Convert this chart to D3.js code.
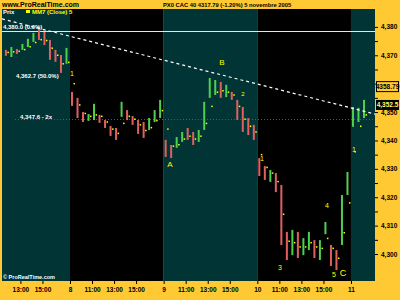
<!DOCTYPE html>
<html>
<head>
<meta charset="utf-8">
<script src="https://cdnjs.cloudflare.com/ajax/libs/d3/7.8.5/d3.min.js"></script>
<style>
  html, body { margin: 0; padding: 0; background: #ffc933; }
  svg { display: block; font-family: "Liberation Sans", Arial, sans-serif; }
</style>
</head>
<body>
<div id="chart"></div>
<script>
// sessions (hours counted from day 7, 9:00; one session = 8.5 h)
const dayNames = ["7", "8", "9", "10", "11"];
const dayStartHours = [0, 8.5, 17, 25.5, 34];
const firstBarHour = [11.5, 9, 9, 9, 9];
const barCounts = [12, 17, 17, 17, 3];
const hourTicks = [11, 13, 15];

// 30 min bars
const highs = [
  4371.9, 4372.9, 4372.2, 4374.0, 4375.8, 4377.9, 4380.0, 4378.2, 4375.4, 4371.9, 4370.1, 4372.6,
  4357.1, 4355.0, 4350.0, 4349.3, 4352.9, 4349.0, 4347.2, 4345.1, 4344.4, 4353.6, 4350.7, 4348.6, 4347.2, 4346.5, 4347.9, 4350.7, 4354.3,
  4340.2, 4338.4, 4341.2, 4343.0, 4344.4, 4343.0, 4343.7, 4353.6, 4362.0, 4361.3, 4360.6, 4359.6, 4357.1, 4354.3, 4351.8, 4347.9, 4345.5,
  4333.8, 4331.0, 4329.6, 4328.5, 4324.3, 4307.8, 4308.5, 4307.8, 4305.6, 4307.8, 4304.9, 4304.9, 4311.3, 4303.2, 4301.4, 4320.8, 4328.9,
  4351.8, 4351.5, 4354.3
];
const lows = [
  4369.8, 4369.4, 4370.5, 4371.9, 4372.9, 4374.7, 4375.4, 4373.6, 4368.4, 4367.7, 4363.8, 4367.0,
  4352.2, 4347.9, 4346.5, 4346.9, 4347.2, 4346.2, 4344.4, 4341.6, 4340.2, 4348.3, 4347.2, 4345.5, 4342.3, 4340.9, 4343.7, 4346.5, 4347.9,
  4334.2, 4333.8, 4337.4, 4339.5, 4340.2, 4338.4, 4339.5, 4343.7, 4355.0, 4356.0, 4355.0, 4355.3, 4354.3, 4347.2, 4343.0, 4341.9, 4340.2,
  4327.5, 4326.1, 4325.4, 4321.8, 4303.2, 4297.9, 4299.6, 4298.6, 4299.6, 4301.4, 4298.6, 4297.9, 4307.0, 4295.8, 4294.4, 4303.2, 4320.8,
  4344.8, 4346.5, 4347.9
];
const closes = [
  4370.5, 4371.8, 4371.0, 4373.5, 4375.2, 4377.0, 4376.0, 4374.2, 4369.0, 4368.5, 4365.0, 4368.0,
  4353.0, 4348.5, 4347.5, 4348.5, 4350.5, 4347.0, 4345.0, 4342.5, 4341.0, 4352.5, 4348.0, 4346.5, 4343.0, 4342.0, 4346.5, 4349.5, 4353.5,
  4335.5, 4335.0, 4340.5, 4342.0, 4341.0, 4339.5, 4343.0, 4350.0, 4357.5, 4359.0, 4356.0, 4357.5, 4355.0, 4348.0, 4345.0, 4343.0, 4341.0,
  4329.0, 4327.5, 4328.5, 4322.5, 4305.0, 4300.0, 4306.5, 4299.5, 4303.0, 4306.0, 4299.5, 4302.5, 4309.5, 4297.5, 4296.0, 4318.5, 4327.5,
  4346.5, 4350.5, 4352.5
];
// MM7, drawn as yellow dots
const mm = [
  4371.0, 4371.2, 4371.4, 4372.0, 4373.0, 4374.5, 4375.5, 4375.2, 4372.5, 4370.0, 4367.0, 4367.5,
  4360.0, 4352.5, 4349.5, 4348.5, 4349.0, 4348.5, 4346.5, 4344.0, 4342.5, 4346.0, 4348.5, 4347.5, 4345.5, 4343.5, 4344.5, 4347.0, 4350.5,
  4344.0, 4338.0, 4338.5, 4340.5, 4341.5, 4340.5, 4341.5, 4346.0, 4352.0, 4357.0, 4357.5, 4357.0, 4356.0, 4352.0, 4347.5, 4345.0, 4343.0,
  4335.0, 4330.5, 4328.5, 4325.5, 4314.0, 4304.5, 4304.0, 4302.5, 4302.5, 4304.0, 4302.5, 4302.0, 4305.5, 4302.0, 4298.5, 4307.5, 4318.0,
  4336.0, 4345.0, 4349.0
];

// levels and trend line
const fibLevels = [4380.0, 4362.7];
const fibLabels = ["4,380.0 (0.0%)", "4,362.7 (50.0%)"];
const resistance = 4378.6;
const target = 4347.6;
const targetLabel = "4,347.6 - 2x";
const trendHours = [2.33, 36.18];
const trendPrices = [4382.8, 4349.3];
const refPrice = 4358.79;

// Elliott wave labels
const waveTexts = ["1", "A", "B", "2", "1", "3", "4", "5", "C", "1"];
const waveHours = [8.68, 17.58, 22.29, 24.2, 25.92, 27.56, 31.82, 32.46, 33.27, 34.27];
const wavePrices = [4363.7, 4331.7, 4367.7, 4356.4, 4333.8, 4295.4, 4316.9, 4292.6, 4293.3, 4336.7];
const waveSizes = [7, 8, 8, 6, 7, 7, 7, 7, 9, 7];

const W = 400, H = 300;
const plot = { left: 2, right: 375, top: 9, bottom: 281 };

const svg = d3.select('#chart').append('svg')
  .attr('width', W).attr('height', H);

svg.append('rect').attr('width', W).attr('height', H).attr('fill', '#ffc933');

const x = d3.scaleLinear().domain([2.33, 36.18]).range([plot.left, plot.right]);
const y = d3.scaleLinear().domain([4290.5, 4386.3]).range([plot.bottom, plot.top]);

svg.append('clipPath').attr('id', 'clip')
  .append('rect')
  .attr('x', plot.left).attr('y', plot.top)
  .attr('width', plot.right - plot.left).attr('height', plot.bottom - plot.top);

const g = svg.append('g').attr('clip-path', 'url(#clip)');

// session backgrounds
g.selectAll('rect.day')
  .data(dayStartHours)
  .enter().append('rect')
  .attr('class', 'day')
  .attr('x', d => x(d))
  .attr('y', plot.top)
  .attr('width', d => x(d + 8.5) - x(d))
  .attr('height', plot.bottom - plot.top)
  .attr('fill', (d, i) => i % 2 === 0 ? '#003435' : '#000000');

// bars
const bars = [];
dayNames.forEach((d, i) => {
  for (let k = 0; k < barCounts[i]; k++) {
    bars.push({ t: dayStartHours[i] + firstBarHour[i] - 9 + k * 0.5 });
  }
});
bars.forEach((b, i) => {
  b.high = highs[i];
  b.low = lows[i];
  b.close = closes[i];
  b.open = i > 0 ? closes[i - 1] : (highs[i] + lows[i]) / 2;
  b.mm = mm[i];
});

// yellow resistance line
g.append('line')
  .attr('x1', plot.left).attr('x2', plot.right)
  .attr('y1', Math.round(y(resistance)) + 0.5).attr('y2', Math.round(y(resistance)) + 0.5)
  .attr('stroke', '#ffff20').attr('stroke-width', 1);

// red dotted target line
g.append('line')
  .attr('x1', 15).attr('x2', plot.right)
  .attr('y1', Math.round(y(target)) + 0.5).attr('y2', Math.round(y(target)) + 0.5)
  .attr('stroke', '#e02020').attr('stroke-width', 1)
  .attr('stroke-dasharray', '1,2');

g.selectAll('rect.bar')
  .data(bars)
  .enter().append('rect')
  .attr('class', 'bar')
  .attr('x', d => x(d.t) + 1)
  .attr('y', d => y(d.high))
  .attr('width', 2)
  .attr('height', d => Math.max(1, y(d.low) - y(d.high)))
  .attr('fill', d => d.close >= d.open ? '#4fcf4f' : '#e06060');

g.selectAll('rect.mm')
  .data(bars)
  .enter().append('rect')
  .attr('class', 'mm')
  .attr('x', d => x(d.t) + 3.5)
  .attr('y', d => y(d.mm) - 0.75)
  .attr('width', 1.5)
  .attr('height', 1.5)
  .attr('fill', '#ffff00');

// trend line
g.append('line')
  .attr('x1', x(trendHours[0])).attr('y1', y(trendPrices[0]))
  .attr('x2', x(trendHours[1])).attr('y2', y(trendPrices[1]))
  .attr('stroke', '#ffffff').attr('stroke-width', 1.2)
  .attr('stroke-dasharray', '3,3');

// fib texts
g.selectAll('text.fib')
  .data(fibLevels)
  .enter().append('text')
  .attr('class', 'fib')
  .attr('x', (d, i) => i === 0 ? 3 : 16)
  .attr('y', d => y(d) + 2)
  .attr('fill', '#ffffff')
  .style('font-size', '6px')
  .style('font-weight', 'bold')
  .text((d, i) => fibLabels[i]);

g.append('text')
  .attr('x', 20).attr('y', y(target))
  .attr('fill', '#ffffff')
  .style('font-size', '6px')
  .style('font-weight', 'bold')
  .text(targetLabel);

// wave labels
g.selectAll('text.wave')
  .data(waveTexts)
  .enter().append('text')
  .attr('class', 'wave')
  .attr('x', (d, i) => x(waveHours[i]))
  .attr('y', (d, i) => y(wavePrices[i]))
  .attr('dy', '0.35em')
  .attr('text-anchor', 'middle')
  .attr('fill', '#ffff00')
  .style('font-size', (d, i) => waveSizes[i] + 'px')
  .text(d => d);

// legend
g.append('text').attr('x', 3).attr('y', 14)
  .attr('fill', '#ffffff').style('font-size', '6px').style('font-weight', 'bold')
  .text('Prix');
g.append('rect').attr('x', 26).attr('y', 10).attr('width', 4).attr('height', 3).attr('fill', '#ffff00');
g.append('text').attr('x', 32).attr('y', 14)
  .attr('fill', '#ffff00').style('font-size', '6px').style('font-weight', 'bold')
  .text('MM7 (Close) 5');

g.append('text').attr('x', 3).attr('y', 279)
  .attr('fill', '#ffffff').style('font-size', '5.5px').style('font-weight', 'bold')
  .text('\u00a9 ProRealTime.com');

// header
svg.append('text').attr('x', 2).attr('y', 7)
  .style('font-size', '7px').style('font-weight', 'bold').attr('fill', '#000')
  .text('www.ProRealTime.com');
svg.append('text').attr('x', 163).attr('y', 7)
  .style('font-size', '5.8px').style('font-weight', 'bold').attr('fill', '#000')
  .text('PX0  CAC 40  4317.79 (-1.20%)  5 novembre 2005');

// x axis
const xTickVals = [];
const xTickText = {};
dayStartHours.forEach((d, i) => {
  xTickVals.push(d);
  xTickText[d] = dayNames[i];
  hourTicks.forEach(h => {
    xTickVals.push(d + h - 9);
    xTickText[d + h - 9] = h + ':00';
  });
});
const xVisible = xTickVals.filter(v => x(v) >= plot.left && x(v) <= plot.right - 6);

const xAxis = svg.append('g')
  .attr('transform', `translate(0, ${plot.bottom})`)
  .call(d3.axisBottom(x).tickValues(xVisible).tickSize(3).tickPadding(3)
    .tickFormat(v => xTickText[v]));
xAxis.select('.domain').remove();
xAxis.selectAll('line').attr('stroke', '#000');
xAxis.selectAll('text')
  .attr('fill', '#000')
  .style('font-size', '6.5px').style('font-weight', 'bold')
  .style('font-family', '"Liberation Sans", Arial, sans-serif');

// y axis (the label under the reference box is hidden)
const refY = y(refPrice);
const yAxis = svg.append('g')
  .attr('transform', `translate(${plot.right}, 0)`)
  .call(d3.axisRight(y).tickValues(d3.range(4300, 4385, 5)).tickSize(3).tickPadding(3)
    .tickFormat(v => v % 10 === 0 && Math.abs(y(v) - refY) > 6 ? d3.format(',')(v) : ''));
yAxis.select('.domain').remove();
yAxis.selectAll('line').attr('stroke', '#000');
yAxis.selectAll('text')
  .attr('fill', '#000')
  .style('font-size', '6.5px').style('font-weight', 'bold')
  .style('font-family', '"Liberation Sans", Arial, sans-serif');

// price boxes
svg.append('rect').attr('x', 376.5).attr('y', refY - 5.5).attr('width', 22).attr('height', 10)
  .attr('fill', '#ffc933').attr('stroke', '#000').attr('stroke-width', 1);
svg.append('text').attr('x', 387.5).attr('y', refY + 2).attr('text-anchor', 'middle')
  .style('font-size', '6.5px').style('font-weight', 'bold').attr('fill', '#000')
  .text(d3.format('.2f')(refPrice));

const lastY = y(closes[closes.length - 1]);
svg.append('rect').attr('x', 376).attr('y', lastY - 5).attr('width', 23).attr('height', 10)
  .attr('fill', '#000');
svg.append('text').attr('x', 387.5).attr('y', lastY + 2.5).attr('text-anchor', 'middle')
  .style('font-size', '6.5px').style('font-weight', 'bold').attr('fill', '#ffff66')
  .text(d3.format(',.1f')(closes[closes.length - 1]));
</script>
</body>
</html>
